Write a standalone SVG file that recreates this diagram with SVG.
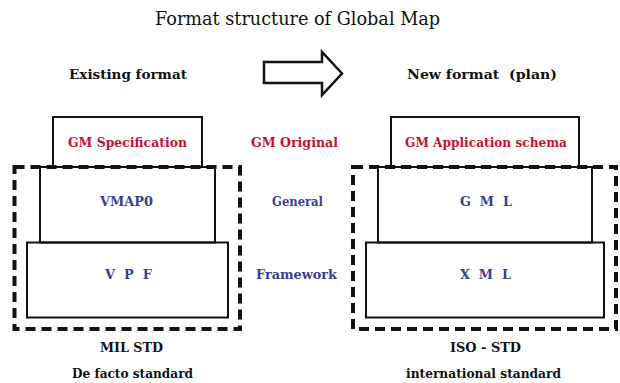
<svg xmlns="http://www.w3.org/2000/svg" width="620" height="383" viewBox="0 0 620 383">
<style>
text{font-family:"DejaVu Serif","Liberation Serif",serif;font-weight:bold;font-size:12px;}
.title{font-weight:normal;font-size:18px;fill:#111;}
.hd{font-size:13px;fill:#111;}
.red{fill:#c41230;}
.blue{fill:#3d3d8f;}
.blk{fill:#111;}
.box{fill:none;stroke:#111;stroke-width:2;}
.dash{fill:none;stroke:#111;stroke-width:4;stroke-dasharray:10 6;}
</style>
<rect width="620" height="383" fill="#fff"/>
<text class="title" x="155" y="25" textLength="285" lengthAdjust="spacingAndGlyphs">Format structure of Global Map</text>
<text class="hd" x="69" y="79" textLength="118" lengthAdjust="spacingAndGlyphs">Existing format</text>
<text class="hd" x="407" y="79" textLength="150" lengthAdjust="spacingAndGlyphs" xml:space="preserve">New format  (plan)</text>
<g id="connectors">
<polygon points="264,62 322,62 322,52 342,73.5 322,95 322,83 264,83" fill="#fff" stroke="#111" stroke-width="2.5" stroke-linejoin="miter"/>
</g>
<g id="gm-spec"><rect class="box" x="53" y="117" width="149" height="50"/><text class="red" x="68" y="147" textLength="119" lengthAdjust="spacingAndGlyphs">GM Specification</text></g>
<g id="vmap0"><rect class="box" x="40" y="167" width="175" height="75.5"/><text class="blue" x="100" y="205.5" textLength="53" lengthAdjust="spacingAndGlyphs">VMAP0</text></g>
<g id="vpf"><rect class="box" x="27" y="242.5" width="201" height="75"/><text class="blue" x="105" y="279" textLength="47" lengthAdjust="spacingAndGlyphs" xml:space="preserve">V  P  F</text></g>
<g id="existing-group"><rect class="dash" x="14.5" y="167" width="225.5" height="162"/></g>
<g id="gm-app"><rect class="box" x="391" y="117" width="188" height="50"/><text class="red" x="405" y="147" textLength="162" lengthAdjust="spacingAndGlyphs">GM Application schema</text></g>
<g id="gml"><rect class="box" x="378" y="167" width="214" height="75.5"/><text class="blue" x="460" y="205.5" textLength="52" lengthAdjust="spacingAndGlyphs" xml:space="preserve">G  M  L</text></g>
<g id="xml"><rect class="box" x="366" y="242.5" width="238" height="75"/><text class="blue" x="460" y="279" textLength="51" lengthAdjust="spacingAndGlyphs" xml:space="preserve">X  M  L</text></g>
<g id="new-group"><rect class="dash" x="353" y="167" width="263" height="162"/></g>
<g id="lbl-original"><text class="red" x="251" y="147" textLength="87" lengthAdjust="spacingAndGlyphs">GM Original</text></g>
<g id="lbl-general"><text class="blue" x="272" y="205.5" textLength="51" lengthAdjust="spacingAndGlyphs">General</text></g>
<g id="lbl-framework"><text class="blue" x="256" y="279" textLength="81" lengthAdjust="spacingAndGlyphs">Framework</text></g>
<g id="lbl-mil"><text class="blk" x="100" y="352" textLength="63" lengthAdjust="spacingAndGlyphs">MIL STD</text><text class="blk" x="72" y="378" textLength="121" lengthAdjust="spacingAndGlyphs">De facto standard</text></g>
<g id="lbl-iso"><text class="blk" x="450" y="352" textLength="71" lengthAdjust="spacingAndGlyphs">ISO - STD</text><text class="blk" x="406" y="378" textLength="155" lengthAdjust="spacingAndGlyphs">international standard</text></g>
</svg>
